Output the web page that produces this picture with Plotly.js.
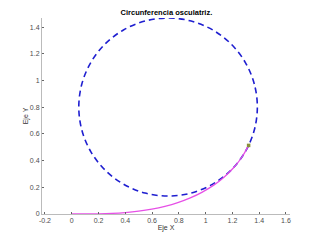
<!DOCTYPE html>
<html>
<head>
<meta charset="utf-8">
<script src="https://cdn.plot.ly/plotly-3.0.1.min.js"></script>
<style>html,body{margin:0;padding:0;background:#fff;}#chart{width:320px;height:240px;}</style>
</head>
<body>
<div id="chart"></div>
<script>
// Clothoid curve
var curveX = [0, 0.1, 0.2, 0.3, 0.3997, 0.4992, 0.5981, 0.6958, 0.7919, 0.8854, 0.9753, 1.0604, 1.1393, 1.2102, 1.2714, 1.3210];
var curveY = [0, 0.0002, 0.0013, 0.0045, 0.0107, 0.0208, 0.0359, 0.0569, 0.0847, 0.1201, 0.1637, 0.2161, 0.2775, 0.3479, 0.4269, 0.5137];
// Osculating circle points
var circX = [1.3862, 1.3634, 1.2968, 1.1909, 1.0528, 0.8920, 0.7195, 0.5469, 0.3861, 0.2481, 0.1421, 0.0755, 0.0528, 0.0755, 0.1421, 0.2481, 0.3861, 0.5469, 0.7195, 0.8920, 1.0528, 1.1909, 1.2968, 1.3634, 1.3862];
var circY = [0.8011, 0.9736, 1.1344, 1.2725, 1.3785, 1.4451, 1.4678, 1.4451, 1.3785, 1.2725, 1.1344, 0.9736, 0.8011, 0.6286, 0.4678, 0.3297, 0.2237, 0.1571, 0.1344, 0.1571, 0.2237, 0.3297, 0.4678, 0.6286, 0.8011];
// Point of tangency
var pointX = [1.3210];
var pointY = [0.5137];
var xTicks = [-0.2, 0, 0.2, 0.4, 0.6, 0.8, 1, 1.2, 1.4, 1.6];
var xTickText = ['-0.2', '0', '0.2', '0.4', '0.6', '0.8', '1', '1.2', '1.4', '1.6'];
var yTicks = [0, 0.2, 0.4, 0.6, 0.8, 1, 1.2, 1.4];
var yTickText = ['0', '0.2', '0.4', '0.6', '0.8', '1', '1.2', '1.4'];

var traces = [
  {x: circX, y: circY, mode: 'lines', line: {color: '#1f1fd0', width: 1.6, dash: '6px,4px', shape: 'spline'}, hoverinfo: 'none'},
  {x: curveX, y: curveY, mode: 'lines', line: {color: '#e650e6', width: 1.3, shape: 'spline'}, hoverinfo: 'none'},
  {x: pointX, y: pointY, mode: 'markers', marker: {color: '#8a8f3a', size: 3.5, symbol: 'square'}, hoverinfo: 'none'}
];
var axisFont = {family: 'Liberation Sans, Arial, sans-serif', size: 7, color: '#4d4d4d'};
var layout = {
  width: 320, height: 240,
  margin: {l: 42, r: 30, t: 18, b: 26},
  paper_bgcolor: '#fff', plot_bgcolor: '#fff',
  showlegend: false,
  title: {text: '<b>Circunferencia osculatriz.</b>', font: {family: 'Liberation Sans, Arial, sans-serif', size: 7.5, color: '#000'}, x: 0.52, xanchor: 'center', y: 0.948, yanchor: 'middle'},
  xaxis: {range: [-0.222, 1.63], tickvals: xTicks, ticktext: xTickText, ticks: 'inside', ticklen: 2, tickcolor: '#666', tickfont: axisFont,
    showline: true, linecolor: '#bbb', linewidth: 1, showgrid: false, zeroline: false,
    title: {text: 'Eje X', font: {family: 'Liberation Sans, Arial, sans-serif', size: 7, color: '#333'}, standoff: 1}},
  yaxis: {range: [0, 1.468], tickvals: yTicks, ticktext: yTickText, ticks: 'inside', ticklen: 2, tickcolor: '#666', tickfont: axisFont,
    showline: true, linecolor: '#bbb', linewidth: 1, showgrid: false, zeroline: false,
    title: {text: 'Eje Y', font: {family: 'Liberation Sans, Arial, sans-serif', size: 7, color: '#333'}, standoff: 0}}
};
Plotly.newPlot('chart', traces, layout, {staticPlot: true, displayModeBar: false});
</script>
</body>
</html>
